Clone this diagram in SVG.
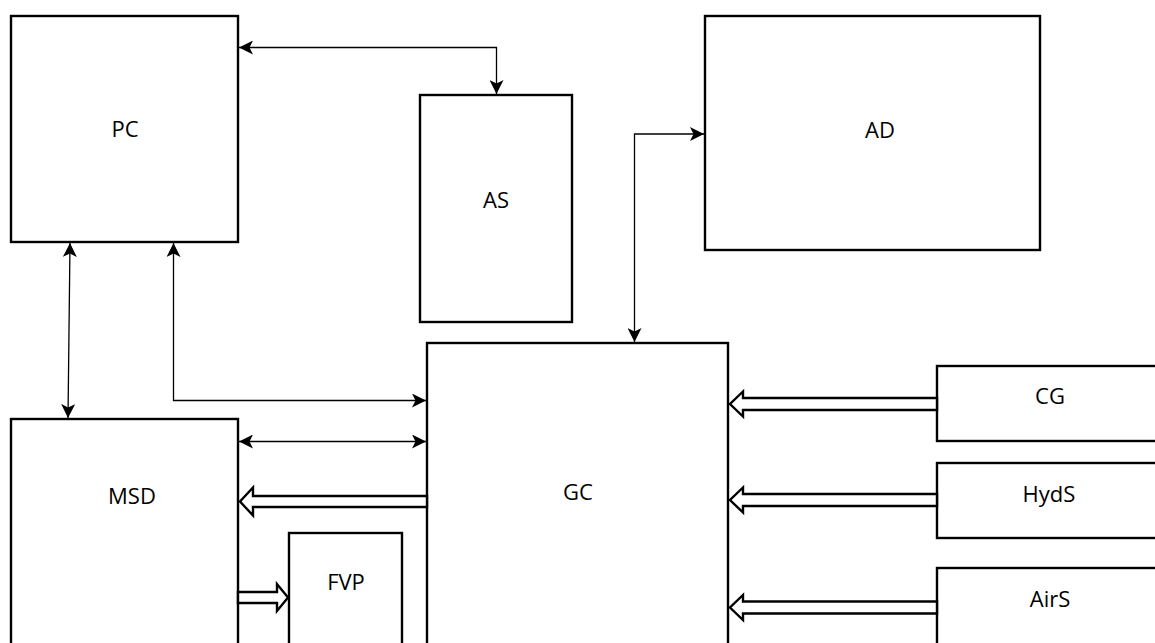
<svg xmlns="http://www.w3.org/2000/svg" width="1155" height="643" viewBox="0 0 1155 643">
<style>
.box{fill:#fff;stroke:#000;stroke-width:2.4}
.lbl{font-family:"Open Sans","Liberation Sans",sans-serif;font-size:22px;fill:#000;text-anchor:middle}
.ln{fill:none;stroke:#000;stroke-width:1.3}
.fa{fill:#fff;stroke:#000;stroke-width:2.4;stroke-linejoin:miter}
</style>
<defs>
<marker id="ah" viewBox="0 0 14 14" refX="14" refY="7" markerWidth="14" markerHeight="14" markerUnits="userSpaceOnUse" orient="auto-start-reverse">
<path d="M0,0 L14,7 L0,14 L3.5,7 z" fill="#000"/>
</marker>
</defs>
<rect width="1155" height="643" fill="#fff"/>
<g id="PC"><rect class="box" x="11" y="16" width="227" height="226"/><text class="lbl" x="125" y="137">PC</text></g>
<g id="AS"><rect class="box" x="420" y="95" width="152" height="227"/><text class="lbl" x="496" y="208">AS</text></g>
<g id="AD"><rect class="box" x="705" y="16" width="335" height="234"/><text class="lbl" x="880" y="138">AD</text></g>
<g id="GC"><rect class="box" x="427" y="343" width="301" height="320"/><text class="lbl" x="578" y="500">GC</text></g>
<g id="MSD"><rect class="box" x="11" y="419" width="227" height="244"/><text class="lbl" x="132" y="504">MSD</text></g>
<g id="FVP"><rect class="box" x="289" y="533" width="113" height="130"/><text class="lbl" x="346" y="590">FVP</text></g>
<g id="CG"><rect class="box" x="937" y="366" width="230" height="75"/><text class="lbl" x="1050" y="404">CG</text></g>
<g id="HydS"><rect class="box" x="937" y="463" width="230" height="75"/><text class="lbl" x="1049" y="502">HydS</text></g>
<g id="AirS"><rect class="box" x="937" y="568" width="230" height="85"/><text class="lbl" x="1050" y="607">AirS</text></g>
<g id="connectors">
<polyline class="ln" points="239,47.5 496.5,47.5 496.5,94" marker-start="url(#ah)" marker-end="url(#ah)"/>
<polyline class="ln" points="634.5,342 634.5,134 704,134" marker-start="url(#ah)" marker-end="url(#ah)"/>
<line class="ln" x1="70" y1="243" x2="68" y2="418" marker-start="url(#ah)" marker-end="url(#ah)"/>
<polyline class="ln" points="173.5,243 173.5,400.5 426,400.5" marker-start="url(#ah)" marker-end="url(#ah)"/>
<line class="ln" x1="239" y1="441.5" x2="426" y2="441.5" marker-start="url(#ah)" marker-end="url(#ah)"/>
<polygon class="fa" points="427,496 253,496 253,487.5 240,501.5 253,515.5 253,507 427,507"/>
<polygon class="fa" points="238,592 277,592 277,584 288,597.5 277,611 277,603 238,603"/>
<polygon class="fa" points="937,398 743,398 743,391.5 730,404 743,416.5 743,410 937,410"/>
<polygon class="fa" points="937,494 743,494 743,487.5 730,500 743,512.5 743,506 937,506"/>
<polygon class="fa" points="937,601.5 743,601.5 743,595 730,607.5 743,620 743,613.5 937,613.5"/>
</g>
</svg>
